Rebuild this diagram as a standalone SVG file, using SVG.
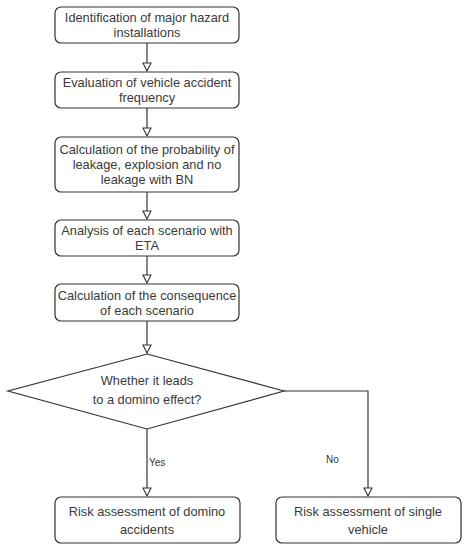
<svg xmlns="http://www.w3.org/2000/svg" width="467" height="550" viewBox="0 0 467 550">
<defs>
<style>
.box{fill:#fff;stroke:#333;stroke-width:1.2}
.t{font-family:"Liberation Sans",Arial,sans-serif;font-size:12.8px;fill:#3a3a3a;text-anchor:middle}
.l{font-family:"Liberation Sans",Arial,sans-serif;font-size:10px;fill:#333}
.c{fill:none;stroke:#333;stroke-width:1.2}
</style>
<marker id="a" markerWidth="10" markerHeight="10" refX="9" refY="5" orient="auto" markerUnits="userSpaceOnUse">
<path d="M1,1 L9,5 L1,9 Z" fill="#fff" stroke="#333" stroke-width="1.1"/>
</marker>
</defs>
<rect width="467" height="550" fill="#fff"/>
<g id="connectors">
<line class="c" x1="147" y1="43" x2="147" y2="71" marker-end="url(#a)"/>
<line class="c" x1="147" y1="108" x2="147" y2="136" marker-end="url(#a)"/>
<line class="c" x1="147" y1="192" x2="147" y2="219" marker-end="url(#a)"/>
<line class="c" x1="147" y1="256" x2="147" y2="283" marker-end="url(#a)"/>
<line class="c" x1="147" y1="321" x2="147" y2="353" marker-end="url(#a)"/>
<line class="c" x1="147" y1="429" x2="147" y2="496" marker-end="url(#a)"/>
<polyline class="c" points="284,391 368,391 368,496" marker-end="url(#a)"/>
<text class="l" x="149" y="466">Yes</text>
<text class="l" x="326" y="463">No</text>
</g>
<g id="n1"><rect class="box" x="55" y="7" width="184" height="36" rx="6"/>
<text class="t" x="147" y="22">Identification of major hazard</text>
<text class="t" x="147" y="37">installations</text></g>
<g id="n2"><rect class="box" x="55" y="72" width="184" height="36" rx="6"/>
<text class="t" x="147" y="87">Evaluation of vehicle accident</text>
<text class="t" x="147" y="102">frequency</text></g>
<g id="n3"><rect class="box" x="55" y="137" width="184" height="55" rx="6"/>
<text class="t" x="147" y="154">Calculation of the probability of</text>
<text class="t" x="147" y="169">leakage, explosion and no</text>
<text class="t" x="147" y="184">leakage with BN</text></g>
<g id="n4"><rect class="box" x="55" y="220" width="184" height="36" rx="6"/>
<text class="t" x="147" y="235">Analysis of each scenario with</text>
<text class="t" x="147" y="250">ETA</text></g>
<g id="n5"><rect class="box" x="55" y="284" width="184" height="37" rx="6"/>
<text class="t" x="147" y="300">Calculation of the consequence</text>
<text class="t" x="147" y="315">of each scenario</text></g>
<g id="n6"><polygon class="box" points="147,354 284,391 147,429 8,391"/>
<text class="t" x="147" y="385">Whether it leads</text>
<text class="t" x="147" y="404">to a domino effect?</text></g>
<g id="n7"><rect class="box" x="55" y="497" width="185" height="46" rx="6"/>
<text class="t" x="147" y="516">Risk assessment of domino</text>
<text class="t" x="147" y="534">accidents</text></g>
<g id="n8"><rect class="box" x="276" y="497" width="185" height="46" rx="6"/>
<text class="t" x="368" y="516">Risk assessment of single</text>
<text class="t" x="368" y="534">vehicle</text></g>
</svg>
